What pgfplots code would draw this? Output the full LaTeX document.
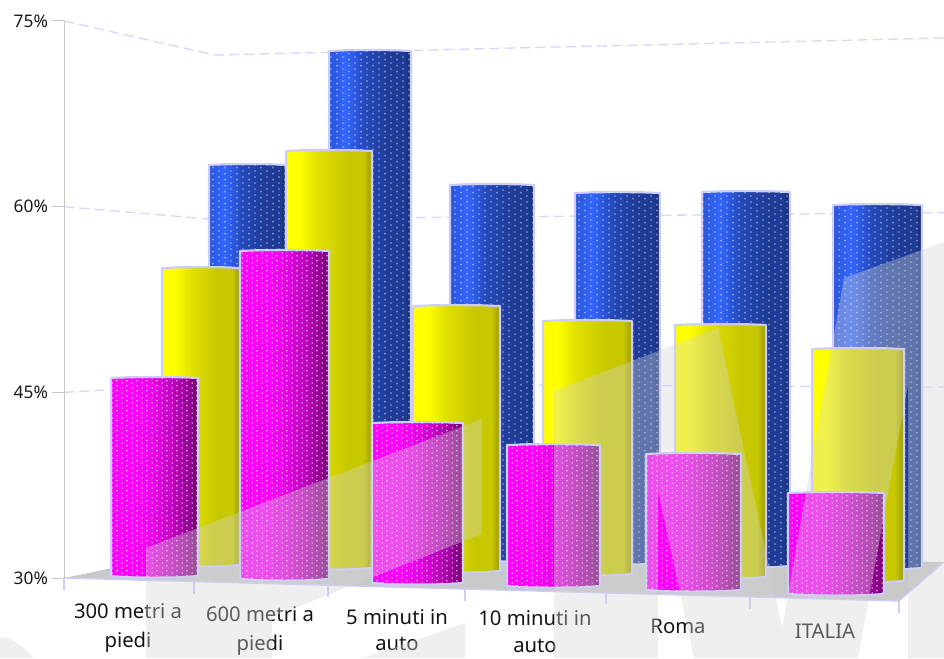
\documentclass[border=0pt]{standalone}
\usepackage{fontspec}
\setmainfont{Noto Sans}
\usepackage{pgfplots}
\pgfplotsset{compat=1.18}
\usetikzlibrary{patterns}

\definecolor{rim}{HTML}{CCCCFF}
\definecolor{gridrim}{HTML}{D6D6FF}
\definecolor{floorgrey}{HTML}{C8C8C8}
\definecolor{axisgrey}{HTML}{C6C6C6}
\definecolor{veil}{HTML}{D4D4D4}

% Horizontal cylinder shadings; the bar's width maps onto 25bp..75bp
\definecolor{magA}{HTML}{FF00FF}
\definecolor{magB}{HTML}{E800E8}
\definecolor{magC}{HTML}{C400C4}
\definecolor{magD}{HTML}{980098}
\definecolor{magE}{HTML}{6E006E}
\pgfdeclarehorizontalshading{magcyl}{100bp}{
  color(0bp)=(magA);
  color(25bp)=(magA);
  color(40bp)=(magA);
  color(50bp)=(magB);
  color(60bp)=(magC);
  color(69bp)=(magD);
  color(75bp)=(magE);
  color(100bp)=(magE)}
\definecolor{blueA}{HTML}{2A55D8}
\definecolor{blueB}{HTML}{3366FF}
\definecolor{blueC}{HTML}{2448B8}
\definecolor{blueD}{HTML}{1E3C96}
\definecolor{blueE}{HTML}{142A66}
\pgfdeclarehorizontalshading{bluecyl}{100bp}{
  color(0bp)=(blueA);
  color(25bp)=(blueA);
  color(35bp)=(blueB);
  color(47bp)=(blueC);
  color(62bp)=(blueD);
  color(71bp)=(blueD);
  color(75bp)=(blueE);
  color(100bp)=(blueE)}
\definecolor{yelA}{HTML}{FFFF00}
\definecolor{yelB}{HTML}{E0E000}
\definecolor{yelC}{HTML}{C8C800}
\definecolor{yelD}{HTML}{999900}
\pgfdeclarehorizontalshading{yelcyl}{100bp}{
  color(0bp)=(yelA);
  color(25bp)=(yelA);
  color(33bp)=(yelA);
  color(44bp)=(yelB);
  color(60bp)=(yelC);
  color(70bp)=(yelC);
  color(75bp)=(yelD);
  color(100bp)=(yelD)}

% Staggered dot textures on the magenta and blue cylinders
\pgfdeclarepatternformonly{dotsfine}{\pgfqpoint{0pt}{0pt}}{\pgfqpoint{7.5pt}{3.75pt}}{\pgfqpoint{7.5pt}{3.75pt}}{
  \pgfpathrectangle{\pgfqpoint{1.3pt}{0.4pt}}{\pgfqpoint{1.1pt}{1.1pt}}\pgfusepath{fill}
  \pgfpathrectangle{\pgfqpoint{5.05pt}{2.3pt}}{\pgfqpoint{1.1pt}{1.1pt}}\pgfusepath{fill}}
\pgfdeclarepatternformonly{dotswide}{\pgfqpoint{0pt}{0pt}}{\pgfqpoint{9.3pt}{4.65pt}}{\pgfqpoint{9.3pt}{4.65pt}}{
  \pgfpathrectangle{\pgfqpoint{1.8pt}{0.6pt}}{\pgfqpoint{1.1pt}{1.1pt}}\pgfusepath{fill}
  \pgfpathrectangle{\pgfqpoint{6.45pt}{2.9pt}}{\pgfqpoint{1.1pt}{1.1pt}}\pgfusepath{fill}}

% One cylinder: shading, x left, x right, base value, top value, [dot pattern]
\newcommand{\cyl}[6]{%
  \pgfmathsetmacro{\xm}{(#2+#3)/2}%
  \pgfmathsetmacro{\xl}{#2+0.2*(#3-#2)}%
  \pgfmathsetmacro{\xr}{#2+0.8*(#3-#2)}%
  \pgfmathsetmacro{\bm}{#4-0.13}%
  \pgfmathsetmacro{\bq}{#4-0.10}%
  \pgfmathsetmacro{\tm}{#5+0.08}%
  \pgfmathsetmacro{\tq}{#5+0.06}%
  \addplot[shade,shading=#1,draw=rim,line width=1.6pt,line join=round] coordinates
    {(#2,#4) (\xl,\bq) (\xm,\bm) (\xr,\bq) (#3,#4) (#3,#5) (\xr,\tq) (\xm,\tm) (\xl,\tq) (#2,#5) (#2,#4)};
  \if\relax#6\relax\else
  \addplot[draw=none,pattern=#6,pattern color=white,opacity=0.62] coordinates
    {(#2,#4) (\xl,\bq) (\xm,\bm) (\xr,\bq) (#3,#4) (#3,#5) (\xr,\tq) (\xm,\tm) (\xl,\tq) (#2,#5) (#2,#4)};
  \fi
}

\begin{document}
\begin{tikzpicture}
\path[use as bounding box] (0pt,0pt) rectangle (708pt,493.5pt);
\begin{axis}[
  at={(48pt,0pt)},anchor=south west,
  scale only axis,width=660pt,height=493.5pt,
  xmin=64,xmax=944,ymin=23.537,ymax=76.696,
  clip=false,
  axis line style={draw=none},
  xtick=\empty,
  ytick={30,45,60,75},
  yticklabels={30\%,45\%,60\%,75\%},
  ytick pos=left,
  tick align=outside,
  major tick length=9pt,
  tick style={axisgrey,line width=0.75pt},
  yticklabel style={font=\fontsize{13}{15}\selectfont,text=black!90,xshift=0.5pt},
]
% floor
\addplot[fill=floorgrey,draw=none] coordinates {(64,30) (215,32.50) (944,31.29) (899,28.14) (64,30)};
% dashed wall lines
\addplot[gridrim,line width=1pt,dash pattern=on 7.5pt off 4pt] coordinates {(64,75) (215,72.25) (944,73.63)};
\addplot[gridrim,line width=1pt,dash pattern=on 7.5pt off 4pt] coordinates {(64,60) (215,58.96) (944,59.52)};
\addplot[gridrim,line width=1pt,dash pattern=on 7.5pt off 4pt] coordinates {(64,45) (215,45.71) (944,45.43)};
% value axis and front edge of the floor
\addplot[axisgrey,line width=0.75pt] coordinates {(64,30) (64,75)};
\addplot[rim,line width=1pt] coordinates {(64,30) (899,28.14) (944,31.29)};
\addplot[rim,line width=1pt] coordinates {(64,30) (64,29.03)};
\addplot[rim,line width=1pt] coordinates {(194,29.71) (194,28.71)};
\addplot[rim,line width=1pt] coordinates {(328,29.51) (328,28.46)};
\addplot[rim,line width=1pt] coordinates {(465,29.11) (465,28.14)};
\addplot[rim,line width=1pt] coordinates {(606,28.79) (606,27.90)};
\addplot[rim,line width=1pt] coordinates {(750,28.47) (750,27.50)};
\addplot[rim,line width=1pt] coordinates {(899,28.14) (899,27.17)};
% back row
\cyl{bluecyl}{209}{286}{32.02}{63.37}{dotswide}
\cyl{bluecyl}{329}{411}{31.78}{72.58}{dotswide}
\cyl{bluecyl}{450}{534}{31.45}{61.75}{dotswide}
\cyl{bluecyl}{575}{660}{31.21}{61.10}{dotswide}
\cyl{bluecyl}{702}{790}{30.97}{61.18}{dotswide}
\cyl{bluecyl}{833}{922}{30.81}{60.13}{dotswide}
% middle row
\cyl{yelcyl}{162}{240}{31.05}{55.04}{}
\cyl{yelcyl}{286}{372}{30.81}{64.50}{}
\cyl{yelcyl}{413}{500}{30.57}{51.97}{}
\cyl{yelcyl}{543}{632}{30.32}{50.76}{}
\cyl{yelcyl}{675}{766}{30.08}{50.44}{}
\cyl{yelcyl}{812}{904}{29.76}{48.50}{}
% front row
\cyl{magcyl}{111}{198}{30.16}{46.16}{dotsfine}
\cyl{magcyl}{240}{329}{29.92}{56.42}{dotsfine}
\cyl{magcyl}{372}{463}{29.60}{42.52}{dotsfine}
\cyl{magcyl}{507}{600}{29.35}{40.74}{dotsfine}
\cyl{magcyl}{646}{741}{29.03}{40.02}{dotsfine}
\cyl{magcyl}{788}{884}{28.71}{36.87}{dotsfine}
% category names along the sloping front edge
\begin{scope}[every node/.style={align=center,font=\fontsize{15.2}{21.5}\selectfont,text=black!92,inner sep=0pt}]
\node at (axis cs:128,25.98) {300 metri a\\piedi};
\node at (axis cs:260,25.73) {600 metri a\\piedi};
\node[font=\fontsize{15.2}{20}\selectfont] at (axis cs:397,25.78) {5 minuti in\\auto};
\node[font=\fontsize{15.2}{20}\selectfont] at (axis cs:535,25.68) {10 minuti in\\auto};
\node at (axis cs:678,26.06) {Roma};
\node at (axis cs:825,25.74) {ITALIA};
\end{scope}
% translucent lettering laid over the whole chart
\addplot[fill=veil,fill opacity=0.37,draw=none] coordinates
  {(146,23.537) (146,32.43) (482,42.85) (482,33.56) (272,26.85) (272,23.537) (146,23.537)};
\addplot[fill=veil,fill opacity=0.37,draw=none] coordinates
  {(465,26.36) (465,23.537) (363,23.537) (465,26.36)};
\addplot[fill=veil,fill opacity=0.37,draw=none] coordinates
  {(0,25.23) (9,25.11) (17,24.75) (26,24.18) (33,23.537) (0,23.537) (0,25.23)};
\addplot[fill=veil,fill opacity=0.37,draw=none] coordinates
  {(554,23.537) (554,45.11) (718,50.21) (782,25.96) (844,54.24) (944,57.14) (944,23.537)
   (908,23.537) (908,45.59) (858,23.537) (694,23.537) (658,37.11) (658,23.537) (554,23.537)};
\end{axis}
\end{tikzpicture}
\end{document}
